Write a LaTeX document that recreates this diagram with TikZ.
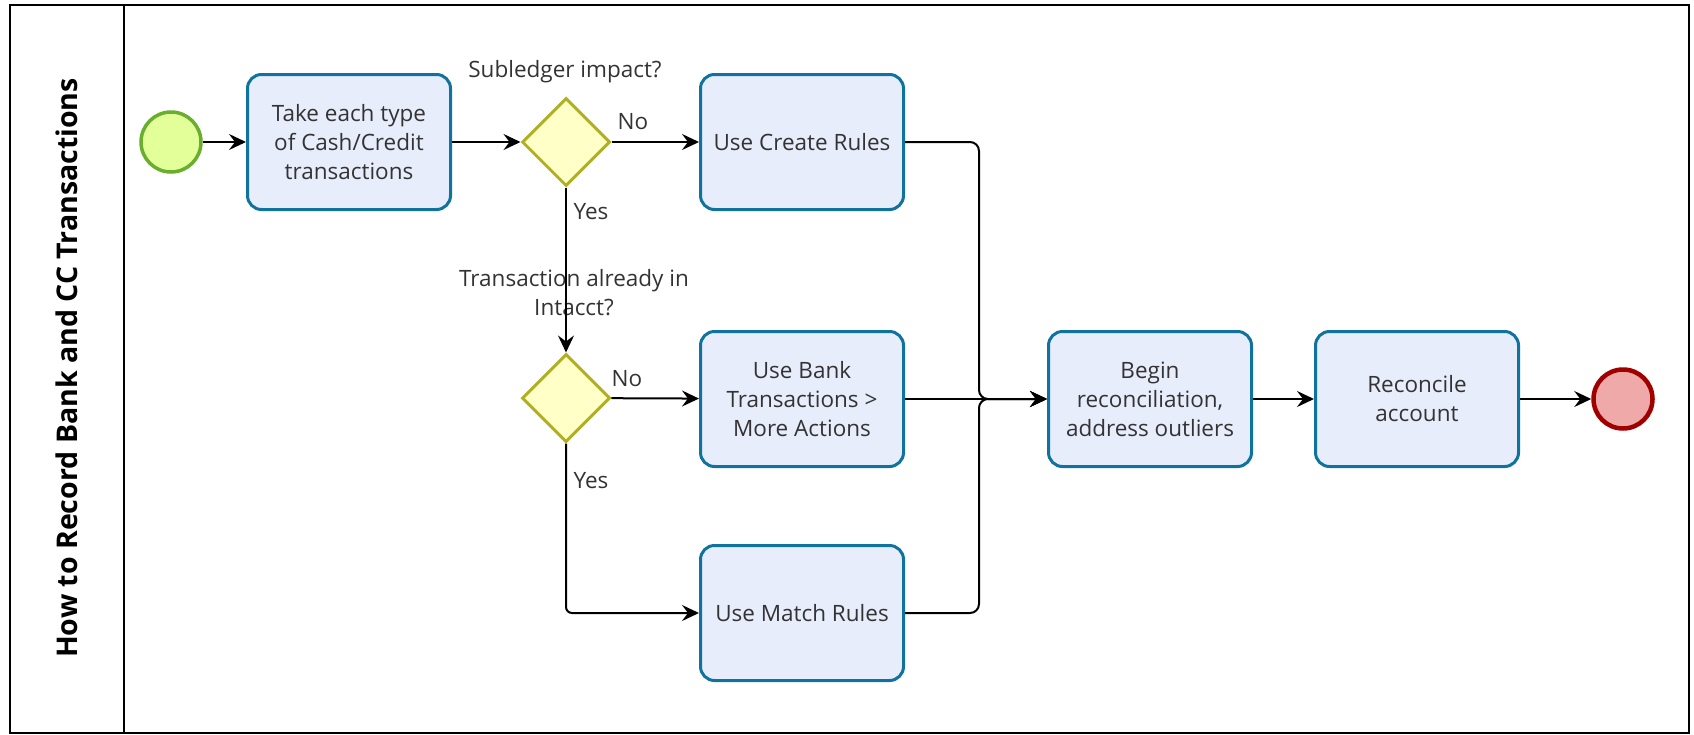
\documentclass[tikz,border=0pt]{standalone}
\usepackage{fontspec}
\setmainfont{Open Sans}
\usetikzlibrary{shapes.geometric,arrows.meta}
\definecolor{taskfill}{HTML}{E8EDFC}
\definecolor{taskline}{HTML}{10739E}
\definecolor{gatefill}{HTML}{FFFFC8}
\definecolor{gateline}{HTML}{B0B024}
\definecolor{startfill}{HTML}{E2FF9A}
\definecolor{startline}{HTML}{6AAE2E}
\definecolor{endfill}{HTML}{EFA9A9}
\definecolor{endline}{HTML}{A10000}
\definecolor{txt}{HTML}{333333}
\begin{document}
\begin{tikzpicture}[x=1pt,y=-1pt,
  task/.style={draw=taskline,fill=taskfill,line width=3pt,rounded corners=14pt,
    minimum width=203pt,minimum height=135pt,align=center,text=txt,
    font=\fontsize{22.5}{29}\selectfont},
  gate/.style={diamond,draw=gateline,fill=gatefill,line width=3pt,
    minimum width=88pt,minimum height=88pt,inner sep=0pt},
  lbl/.style={text=txt,align=center,font=\fontsize{22.5}{29}\selectfont},
  flow/.style={line width=2pt,-{Stealth[length=17pt,width=16pt,inset=6pt]}}]
\useasboundingbox (0,0) rectangle (1694,734);
\draw[line width=2pt] (10,5) rectangle (1689,733);
\draw[line width=2pt] (124,5) -- (124,733);
\node[rotate=90,font=\bfseries\fontsize{28.5}{32}\selectfont] (title) at (67,368) {How to Record Bank and CC Transactions};
\node[circle,draw=startline,fill=startfill,line width=3.5pt,minimum size=60pt] (start) at (171,142) {};
\node[task] (take) at (349,142) {Take each type\\of Cash/Credit\\transactions};
\node[gate] (sub) at (566,142) {};
\node[lbl] (sublbl) at (565,72) {Subledger impact?};
\node[task] (create) at (802,142) {Use Create Rules};
\node[lbl] (intlbl) at (574,293) {Transaction already in\\Intacct?};
\node[gate] (intacct) at (566,398) {};
\node[task] (bank) at (802,399) {Use Bank\\Transactions >\\More Actions};
\node[task] (match) at (802,613) {Use Match Rules};
\node[task] (begin) at (1150,399) {Begin\\reconciliation,\\address outliers};
\node[task] (rec) at (1417,399) {Reconcile\\account};
\node[circle,draw=endline,fill=endfill,line width=4.5pt,minimum size=59pt] (end) at (1623,399) {};
\node[lbl] (no1) at (633,122) {No};
\node[lbl] (yes1) at (591,212) {Yes};
\node[lbl] (no2) at (627,379) {No};
\node[lbl] (yes2) at (591,481) {Yes};
\coordinate (join) at (979,399);
\draw[flow] (start) -- (take);
\draw[flow] (take) -- (sub);
\draw[flow] (sub) -- (create);
\draw[flow] (sub) -- (intacct);
\draw[flow] (intacct) -- (bank);
\draw[flow,rounded corners=6pt] (intacct) |- (match);
\draw[flow] (bank) -- (begin);
\draw[flow,rounded corners=9pt] (create) -| (join) -- (begin);
\draw[flow,rounded corners=9pt] (match) -| (join) -- (begin);
\draw[flow] (begin) -- (rec);
\draw[flow] (rec) -- (end);
\end{tikzpicture}
\end{document}
